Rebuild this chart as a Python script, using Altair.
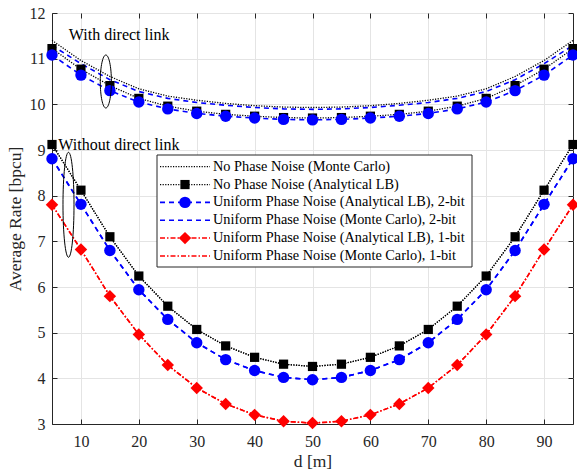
import altair as alt
import pandas as pd

# ---------------- data ----------------
d = [5, 10, 15, 20, 25, 30, 35, 40, 45, 50, 55, 60, 65, 70, 75, 80, 85, 90, 95]

# Without direct link
wo_nopn_mc = [9.12, 8.12, 7.10, 6.24, 5.58, 5.07, 4.71, 4.46, 4.31, 4.26, 4.31, 4.46, 4.71, 5.07, 5.58, 6.24, 7.10, 8.12, 9.12]
wo_nopn_lb = [9.12, 8.12, 7.10, 6.24, 5.58, 5.07, 4.71, 4.46, 4.31, 4.26, 4.31, 4.46, 4.71, 5.07, 5.58, 6.24, 7.10, 8.12, 9.12]
wo_u2_lb = [8.81, 7.81, 6.80, 5.94, 5.29, 4.78, 4.41, 4.17, 4.02, 3.97, 4.02, 4.17, 4.41, 4.78, 5.29, 5.94, 6.80, 7.81, 8.81]
wo_u2_mc = [8.81, 7.81, 6.80, 5.94, 5.29, 4.78, 4.41, 4.17, 4.02, 3.97, 4.02, 4.17, 4.41, 4.78, 5.29, 5.94, 6.80, 7.81, 8.81]
wo_u1_lb = [7.80, 6.82, 5.80, 4.96, 4.29, 3.79, 3.44, 3.20, 3.06, 3.02, 3.06, 3.20, 3.44, 3.79, 4.29, 4.96, 5.80, 6.82, 7.80]
wo_u1_mc = [7.80, 6.82, 5.80, 4.96, 4.29, 3.79, 3.44, 3.20, 3.06, 3.02, 3.06, 3.20, 3.44, 3.79, 4.29, 4.96, 5.80, 6.82, 7.80]

# With direct link
w_nopn_mc = [11.40, 10.96, 10.61, 10.34, 10.18, 10.09, 10.02, 9.97, 9.94, 9.93, 9.94, 9.97, 10.02, 10.09, 10.18, 10.34, 10.61, 10.96, 11.40]
w_nopn_lb = [11.22, 10.77, 10.41, 10.13, 9.96, 9.85, 9.78, 9.74, 9.71, 9.70, 9.71, 9.74, 9.78, 9.85, 9.96, 10.13, 10.41, 10.77, 11.22]
w_u2_lb = [11.08, 10.64, 10.30, 10.05, 9.90, 9.80, 9.74, 9.70, 9.67, 9.66, 9.67, 9.70, 9.74, 9.80, 9.90, 10.05, 10.30, 10.64, 11.08]
w_u2_mc = [11.29, 10.89, 10.54, 10.28, 10.13, 10.04, 9.98, 9.93, 9.90, 9.89, 9.90, 9.93, 9.98, 10.04, 10.13, 10.28, 10.54, 10.89, 11.29]

legend_labels = [
    "No Phase Noise (Monte Carlo)",
    "No Phase Noise (Analytical LB)",
    "Uniform Phase Noise (Analytical LB), 2-bit",
    "Uniform Phase Noise (Monte Carlo), 2-bit",
    "Uniform Phase Noise (Analytical LB), 1-bit",
    "Uniform Phase Noise (Monte Carlo), 1-bit",
]

ann_text = ["With direct link", "Without direct link"]
ann_text_d = [7.9, 6.1]
ann_text_v = [11.52, 9.11]

ell_d = [14.3, 7.85]
ell_v = [10.50, 7.80]

x_ticks = [10, 20, 30, 40, 50, 60, 70, 80, 90]
y_ticks = [3, 4, 5, 6, 7, 8, 9, 10, 11, 12]

# ---------------- styles ----------------
BLACK, BLUE, RED = "#000000", "#0000FF", "#FF0000"
DOT = [1.2, 1.4]
DASH = [5, 4]
DASHDOT = [5, 2, 1.5, 2]
styles = {
    0: dict(color=BLACK, dash=DOT, width=1.3, shape=None),
    1: dict(color=BLACK, dash=DOT, width=1.3, shape="square"),
    2: dict(color=BLUE, dash=DASH, width=1.6, shape="circle"),
    3: dict(color=BLUE, dash=DASH, width=1.6, shape=None),
    4: dict(color=RED, dash=DASHDOT, width=1.5, shape="diamond"),
    5: dict(color=RED, dash=DASHDOT, width=1.5, shape=None),
}
marker_size = {"square": 85, "circle": 130, "diamond": 155}

series = [
    ("wo_nopn_mc", wo_nopn_mc, 0),
    ("wo_u2_mc", wo_u2_mc, 3),
    ("wo_u1_mc", wo_u1_mc, 5),
    ("wo_nopn_lb", wo_nopn_lb, 1),
    ("wo_u2_lb", wo_u2_lb, 2),
    ("wo_u1_lb", wo_u1_lb, 4),
    ("w_nopn_mc", w_nopn_mc, 0),
    ("w_u2_mc", w_u2_mc, 3),
    ("w_nopn_lb", w_nopn_lb, 1),
    ("w_u2_lb", w_u2_lb, 2),
]

rows = []
for name, vals, sty in series:
    for dd, vv in zip(d, vals):
        rows.append({"d": dd, "v": vv, "s": name})
df = pd.DataFrame(rows)

FONT = "Liberation Serif, Times New Roman, serif"
GRAY = "#262626"

xs = alt.Scale(domain=[5, 95], nice=False, zero=False)
ys = alt.Scale(domain=[3, 12], nice=False, zero=False)

X_noaxis = alt.X("d:Q", scale=xs, axis=None)
Y_noaxis = alt.Y("v:Q", scale=ys, axis=None)

layers = []

# axis layer (bottom / left)
axis_layer = alt.Chart(df).mark_point(opacity=0).encode(
    x=alt.X("d:Q", scale=xs, title="d [m]",
            axis=alt.Axis(values=x_ticks, labelPadding=14, titlePadding=3)),
    y=alt.Y("v:Q", scale=ys, title="Average Rate [bpcu]",
            axis=alt.Axis(values=y_ticks, labelPadding=12, titlePadding=5)),
)
layers.append(axis_layer)

# top / right tick layer
top_layer = alt.Chart(df).mark_point(opacity=0).encode(
    x=alt.X("d:Q", scale=xs, title=None,
            axis=alt.Axis(orient="top", values=x_ticks, labels=False, grid=False, domain=False)),
    y=alt.Y("v:Q", scale=ys, title=None,
            axis=alt.Axis(orient="right", values=y_ticks, labels=False, grid=False, domain=False)),
)
layers.append(top_layer)

# lines
for name, vals, sty in series:
    st = styles[sty]
    layers.append(
        alt.Chart(df[df.s == name]).mark_line(
            color=st["color"], strokeDash=st["dash"], strokeWidth=st["width"]
        ).encode(x=X_noaxis, y=Y_noaxis, order="d:Q")
    )
# markers
for name, vals, sty in series:
    st = styles[sty]
    if st["shape"]:
        layers.append(
            alt.Chart(df[df.s == name]).mark_point(
                shape=st["shape"], filled=True, color=st["color"], opacity=1,
                size=marker_size[st["shape"]]
            ).encode(x=X_noaxis, y=Y_noaxis)
        )

# annotations
ann_df = pd.DataFrame({"d": ann_text_d, "v": ann_text_v, "t": ann_text})
layers.append(
    alt.Chart(ann_df).mark_text(
        align="left", baseline="middle", font=FONT, fontSize=16, color="black"
    ).encode(x=X_noaxis, y=Y_noaxis, text="t:N")
)

ell_df = pd.DataFrame({"d": ell_d, "v": ell_v})
ell_shapes = [
    ("M0,-1A0.21,1 0 1,1 0,1A0.21,1 0 1,1 0,-1Z", 53 * 53),
    ("M0,-1A0.105,1 0 1,1 0,1A0.105,1 0 1,1 0,-1Z", 105 * 105),
]
for i, (path, sz) in enumerate(ell_shapes):
    layers.append(
        alt.Chart(ell_df.iloc[[i]]).mark_point(
            shape=path, size=sz, filled=False, stroke="black", strokeWidth=1, opacity=1
        ).encode(x=X_noaxis, y=Y_noaxis)
    )

# legend (pixel positions inside plot area)
LX0, LX1, LY0, LY1 = 105, 420, 142, 254
layers.append(
    alt.Chart(pd.DataFrame({"a": [0]})).mark_rect(
        fill="white", stroke=GRAY, strokeWidth=1
    ).encode(x=alt.value(LX0), x2=alt.value(LX1), y=alt.value(LY0), y2=alt.value(LY1))
)
for i, lab in enumerate(legend_labels):
    st = styles[i]
    yy = 153.7 + i * 17.85
    one = pd.DataFrame({"t": [lab]})
    layers.append(
        alt.Chart(one).mark_rule(
            color=st["color"], strokeDash=st["dash"], strokeWidth=st["width"]
        ).encode(x=alt.value(108), x2=alt.value(158), y=alt.value(yy))
    )
    if st["shape"]:
        layers.append(
            alt.Chart(one).mark_point(
                shape=st["shape"], filled=True, color=st["color"], opacity=1,
                size=marker_size[st["shape"]]
            ).encode(x=alt.value(133), y=alt.value(yy))
        )
    layers.append(
        alt.Chart(one).mark_text(
            align="left", baseline="middle", font=FONT, fontSize=14.3, color="black"
        ).encode(x=alt.value(161), y=alt.value(yy), text="t:N")
    )

chart = alt.layer(*layers).resolve_axis(
    x="independent", y="independent"
).properties(
    width=521, height=411,
    autosize=alt.AutoSizeParams(type="none"),
    padding={"left": 52, "top": 13, "right": 4, "bottom": 48},
    background="white",
).configure_view(
    stroke=GRAY, strokeWidth=1
).configure_axis(
    labelFont=FONT, labelFontSize=16, labelColor=GRAY,
    titleFont=FONT, titleFontSize=17.5, titleColor=GRAY, titleFontWeight="normal",
    domainColor=GRAY, tickColor=GRAY, gridColor="#e4e4e4", gridWidth=1,
    tickSize=alt.ExprRef(expr="-5"),
)

chart.save("out.html", embed_options={"renderer": "svg", "actions": False})
